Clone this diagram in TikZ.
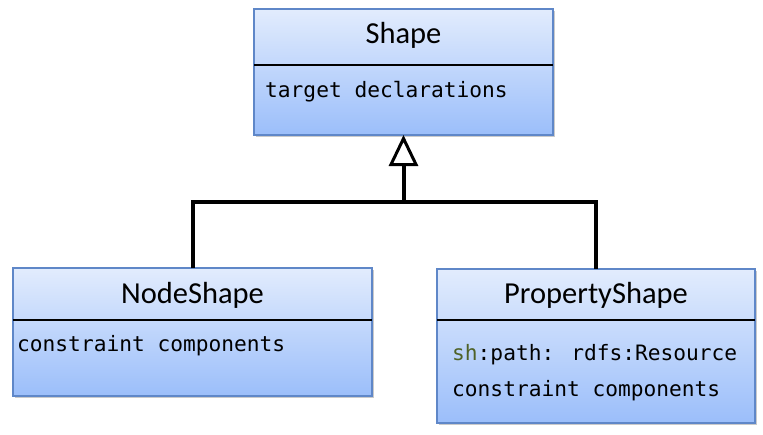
\documentclass[tikz,border=0pt]{standalone}
\usepackage{fontspec}
\setmainfont{Carlito}
\newfontfamily\codefont{DejaVu Sans Mono}
\usetikzlibrary{arrows.meta,shadows,calc}
\definecolor{boxtop}{RGB}{226,236,253}
\definecolor{boxbot}{RGB}{155,190,250}
\definecolor{boxline}{RGB}{95,135,200}
\definecolor{shgreen}{RGB}{79,98,40}
\begin{document}
\begin{tikzpicture}[x=1pt,y=-1pt,
 umlbox/.style={draw=boxline, line width=1.2pt, top color=boxtop, bottom color=boxbot,
   inner sep=0pt, outer sep=0pt, anchor=north west,
   drop shadow={shadow xshift=1.5pt, shadow yshift=-2pt, opacity=0.35, fill=black!60}},
 title/.style={font=\fontsize{30.5}{36}\selectfont, inner sep=0pt, anchor=base},
 code/.style={font=\codefont\fontsize{21.2}{25}\selectfont, inner sep=0pt, anchor=base west},
 divider/.style={draw=black, line width=1.2pt},
 conn/.style={draw=black, line width=4pt},
]
\useasboundingbox (0,0) rectangle (763,434);

% boxes
\node[umlbox, minimum width=299pt, minimum height=126pt] (shape) at (254,9) {};
\node[umlbox, minimum width=359pt, minimum height=128pt] (ns) at (13,268) {};
\node[umlbox, minimum width=318pt, minimum height=154pt] (ps) at (437,269) {};

% dividers
\draw[divider] ($(shape.north west)+(0,56)$) -- ($(shape.north east)+(0,56)$);
\draw[divider] ($(ns.north west)+(0,52)$) -- ($(ns.north east)+(0,52)$);
\draw[divider] ($(ps.north west)+(0,51)$) -- ($(ps.north east)+(0,51)$);

% titles
\node[title] (shapeT) at (403.5,43) {Shape};
\node[title] (nsT) at (192.5,303) {NodeShape};
\node[title] (psT) at (596,303) {PropertyShape};

% attributes
\node[code] (shapeA) at (265,97) {target declarations};
\node[code] (nsA) at (17,351) {constraint components};
\node[code] (psA) at (452,360) {\textcolor{shgreen}{sh}:path: rdfs:Resource};
\node[code] (psB) at (452,396) {constraint components};

% connectors
\coordinate (junc) at (403.5,202);
\draw[conn] (ns.north) |- (junc) -| (ps.north);
\draw[conn, -{Triangle[open, length=31pt, width=29pt, line width=3pt]}] (junc) -- (shape.south);
\end{tikzpicture}
\end{document}
